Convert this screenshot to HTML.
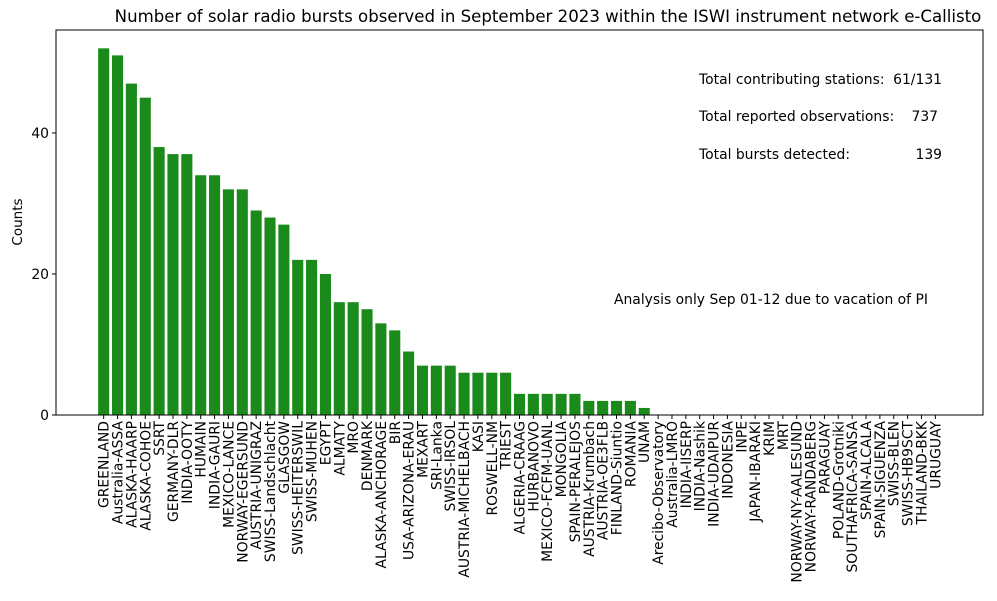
<!DOCTYPE html>
<html><head><meta charset="utf-8"><style>
body{margin:0;background:#fff;}
svg text{font-family:"DejaVu Sans","Liberation Sans",sans-serif;fill:#000;}
</style></head><body>
<svg id="chart" width="997" height="596" xmlns="http://www.w3.org/2000/svg">
<text x="548" y="22" font-size="16.6" text-anchor="middle">Number of solar radio bursts observed in September 2023 within the ISWI instrument network e-Callisto</text>
<g id="bars"></g>
<g id="xticks"></g>
<g id="yticks"></g>
<rect x="56" y="30" width="927" height="385" fill="none" stroke="#000" stroke-width="1"/>
<text transform="translate(22,222) rotate(-90)" font-size="13.5" text-anchor="middle">Counts</text>
<text x="699" y="84" font-size="13.9">Total contributing stations:</text>
<text x="942" y="84" font-size="13.9" text-anchor="end">61/131</text>
<text x="699" y="121" font-size="13.9">Total reported observations:</text>
<text x="938" y="121" font-size="13.9" text-anchor="end">737</text>
<text x="699" y="159" font-size="13.9">Total bursts detected:</text>
<text x="942" y="159" font-size="13.9" text-anchor="end">139</text>
<text x="614" y="304" font-size="13.9">Analysis only Sep 01-12 due to vacation of PI</text>
</svg>
<script>
const categories=["GREENLAND","Australia-ASSA","ALASKA-HAARP","ALASKA-COHOE","SSRT","GERMANY-DLR","INDIA-OOTY","HUMAIN","INDIA-GAURI","MEXICO-LANCE","NORWAY-EGERSUND","AUSTRIA-UNIGRAZ","SWISS-Landschlacht","GLASGOW","SWISS-HEITERSWIL","SWISS-MUHEN","EGYPT","ALMATY","MRO","DENMARK","ALASKA-ANCHORAGE","BIR","USA-ARIZONA-ERAU","MEXART","SRI-Lanka","SWISS-IRSOL","AUSTRIA-MICHELBACH","KASI","ROSWELL-NM","TRIEST","ALGERIA-CRAAG","HURBANOVO","MEXICO-FCFM-UANL","MONGOLIA","SPAIN-PERALEJOS","AUSTRIA-Krumbach","AUSTRIA-OE3FLB","FINLAND-Siuntio","ROMANIA","UNAM","Arecibo-Observatory","Australia-LMRO","INDIA-IISERP","INDIA-Nashik","INDIA-UDAIPUR","INDONESIA","INPE","JAPAN-IBARAKI","KRIM","MRT","NORWAY-NY-AALESUND","NORWAY-RANDABERG","PARAGUAY","POLAND-Grotniki","SOUTHAFRICA-SANSA","SPAIN-ALCALA","SPAIN-SIGUENZA","SWISS-BLEN","SWISS-HB9SCT","THAILAND-BKK","URUGUAY"];
const counts=[52,51,47,45,38,37,37,34,34,32,32,29,28,27,22,22,20,16,16,15,13,12,9,7,7,7,6,6,6,6,3,3,3,3,3,2,2,2,2,1,0,0,0,0,0,0,0,0,0,0,0,0,0,0,0,0,0,0,0,0,0];
const yTicks=[0,20,40];
const NS="http://www.w3.org/2000/svg";
const L=56,R=983,T=30,B=415;
const n=categories.length;
const xmin=-0.4-0.05*(n-1+0.8),xmax=n-1+0.4+0.05*(n-1+0.8);
const ymax=Math.max(...counts)*1.05;
const xs=v=>L+(v-xmin)/(xmax-xmin)*(R-L);
const ys=v=>B-v/ymax*(B-T);
function mk(tag,attrs,parent){const e=document.createElementNS(NS,tag);for(const k in attrs)e.setAttribute(k,attrs[k]);parent.appendChild(e);return e;}
const gb=document.getElementById('bars'),gx=document.getElementById('xticks'),gy=document.getElementById('yticks');
categories.forEach((c,i)=>{
  const x0=xs(i-0.4),x1=xs(i+0.4);
  const r=mk('rect',{x:x0,y:ys(counts[i]),width:x1-x0,height:B-ys(counts[i]),fill:'#1a8a1a'},gb);
  
  
  const cx=xs(i);
  const t=mk('line',{x1:cx,x2:cx,y1:B,y2:B+4,stroke:'#000'},gx);
  
  
  const lb=mk('text',{transform:`translate(${cx+5},${B+6}) rotate(-90)`,'font-size':'13.9','text-anchor':'end'},gx);
  lb.textContent=c;
  
  
});
yTicks.forEach(v=>{
  const y=ys(v);
  const t=mk('line',{x1:L-4,x2:L,y1:y,y2:y,stroke:'#000'},gy);
  
  
  const lb=mk('text',{x:L-7,y:y+5,'font-size':'13.9','text-anchor':'end'},gy);
  lb.textContent=v;
  
  
});
</script>
</body></html>
